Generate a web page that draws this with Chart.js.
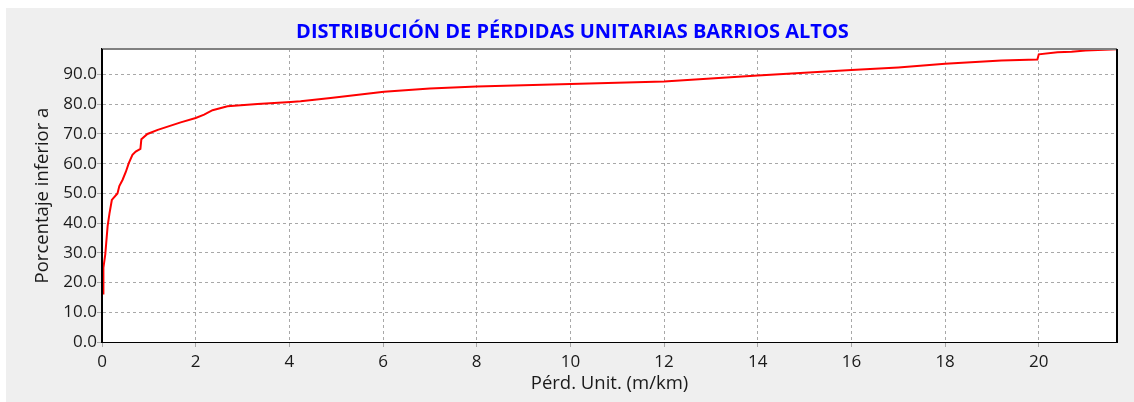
<!DOCTYPE html>
<html lang="es">
<head>
  <meta charset="UTF-8">
  <title>Distribución de pérdidas unitarias</title>
  <script src="https://cdn.jsdelivr.net/npm/chart.js"></script>
  <style>
    body {
      margin: 0;
      background: #ffffff;
    }
    #panel {
      position: absolute;
      left: 6px;
      top: 8px;
      width: 1128px;
      height: 394px;
      background: #efefef;
    }
  </style>
</head>
<body>
  <div id="panel"><canvas id="curva" width="1128" height="394"></canvas></div>

  <script>
    // Pérd. Unit. (m/km) vs. porcentaje acumulado
    const perdida = [0.03, 0.03, 0.07, 0.12, 0.16, 0.21, 0.33, 0.37, 0.44, 0.51, 0.57, 0.65, 0.72, 0.82,
      0.84, 0.97, 1.19, 1.68, 2.0, 2.18, 2.36, 2.68, 3.32, 4.03, 4.24, 4.88, 6.02, 7.0, 8.0, 10.0,
      12.0, 14.0, 15.0, 16.0, 17.0, 18.0, 19.2, 19.97, 20.0, 20.4, 20.7, 21.0, 21.67];
    const porcentaje = [16.0, 25.0, 29.5, 39.0, 43.3, 47.8, 50.0, 52.5, 54.6, 57.3, 60.1, 63.0, 64.1, 65.0,
      68.2, 70.0, 71.4, 73.9, 75.4, 76.5, 78.0, 79.3, 80.1, 80.8, 81.0, 82.1, 84.2, 85.3, 86.0, 86.8,
      87.7, 89.7, 90.6, 91.5, 92.4, 93.6, 94.7, 95.1, 96.8, 97.5, 97.7, 98.1, 98.5];

    const titulo = 'DISTRIBUCIÓN DE PÉRDIDAS UNITARIAS BARRIOS ALTOS';
    const tituloX = 'Pérd. Unit. (m/km)';
    const tituloY = 'Porcentaje inferior a';

    const puntos = perdida.map((p, i) => ({ x: p, y: porcentaje[i] }));

    // fondo blanco del area y bordes (izquierdo, superior, derecho)
    const marco = {
      id: 'marco',
      beforeDraw(chart) {
        const { ctx, chartArea: a } = chart;
        ctx.save();
        ctx.fillStyle = '#ffffff';
        ctx.fillRect(a.left, a.top, a.right - a.left, a.bottom - a.top);
        ctx.restore();
      },
      afterDraw(chart) {
        const { ctx, chartArea: a } = chart;
        ctx.save();
        ctx.setLineDash([]);
        ctx.lineWidth = 2;
        ctx.strokeStyle = '#808080';
        ctx.beginPath();
        ctx.moveTo(a.left, a.top);
        ctx.lineTo(a.right, a.top);
        ctx.stroke();
        ctx.strokeStyle = '#000000';
        ctx.beginPath();
        ctx.moveTo(a.right, a.top);
        ctx.lineTo(a.right, a.bottom);
        ctx.stroke();
        ctx.beginPath();
        ctx.moveTo(a.left, a.top);
        ctx.lineTo(a.left, a.bottom + 1);
        ctx.stroke();
        ctx.restore();
      }
    };

    const fuente = { family: '"Open Sans", sans-serif', size: 17 };
    const fuenteTitulo = { family: '"Open Sans", sans-serif', size: 18.5 };
    const rejilla = {
      color: '#a8a8a8',
      lineWidth: 1,
      tickLength: 5,
      tickColor: '#a8a8a8'
    };

    new Chart(document.getElementById('curva'), {
      type: 'scatter',
      data: {
        datasets: [{
          data: puntos,
          showLine: true,
          borderColor: '#ff0000',
          borderWidth: 2,
          pointRadius: 0,
          tension: 0
        }]
      },
      plugins: [marco],
      options: {
        responsive: false,
        animation: false,
        layout: { padding: { left: 22, right: 17, top: 0, bottom: 0 } },
        plugins: {
          legend: { display: false },
          tooltip: { enabled: false },
          title: {
            display: true,
            text: titulo,
            color: '#0000ff',
            font: { family: '"Open Sans", sans-serif', size: 20, weight: 'bold' },
            padding: { top: 12, bottom: 5 }
          }
        },
        scales: {
          x: {
            type: 'linear',
            min: 0,
            max: 21.67,
            grid: { ...rejilla },
            border: { display: true, color: '#000000', width: 1, dash: [3, 3] },
            ticks: {
              stepSize: 2,
              includeBounds: false,
              padding: 5,
              color: '#1a1a1a',
              font: fuente,
              maxRotation: 0
            },
            title: {
              display: true,
              text: tituloX,
              color: '#1a1a1a',
              font: fuenteTitulo,
              padding: { top: 2, bottom: 7 }
            },
            afterFit(scale) { scale.height = 60; }
          },
          y: {
            type: 'linear',
            min: 0,
            max: 98.6,
            grid: { ...rejilla },
            border: { display: true, color: '#000000', width: 2, dash: [3, 3] },
            ticks: {
              stepSize: 10,
              includeBounds: false,
              padding: 0,
              color: '#1a1a1a',
              font: fuente,
              callback: v => v.toFixed(1)
            },
            title: {
              display: true,
              text: tituloY,
              color: '#1a1a1a',
              font: fuenteTitulo,
              padding: { top: 4, bottom: 4 }
            },
            afterFit(scale) { scale.width = 74; }
          }
        }
      }
    });
  </script>
</body>
</html>
